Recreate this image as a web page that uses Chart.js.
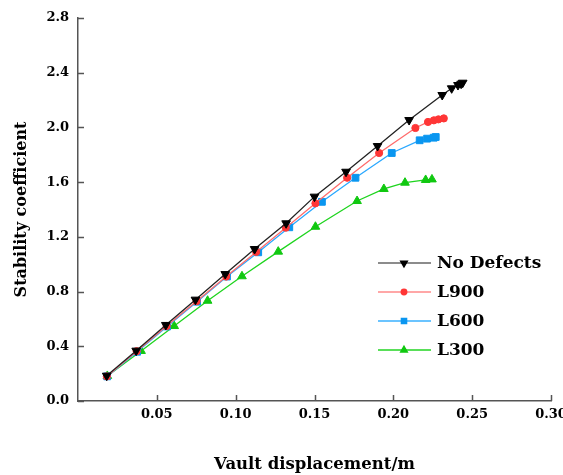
<!DOCTYPE html>
<html>
<head>
<meta charset="utf-8">
<script src="https://cdn.jsdelivr.net/npm/chart.js@4/dist/chart.umd.min.js"></script>
<style>
  html, body { margin: 0; padding: 0; background: #fff; }
  #wrap { width: 563px; height: 475px; }
</style>
</head>
<body>
<div id="wrap"><canvas id="chart" width="563" height="475"></canvas></div>
<script>
// Vault displacement (m) / stability coefficient
const noDefectsX = [0.0182, 0.0369, 0.0557, 0.0745, 0.0934, 0.112, 0.132, 0.150, 0.170, 0.190, 0.210, 0.231, 0.237, 0.241, 0.243, 0.244];
const noDefectsY = [0.185, 0.368, 0.556, 0.741, 0.928, 1.111, 1.299, 1.494, 1.676, 1.864, 2.054, 2.237, 2.286, 2.310, 2.320, 2.327];

const l900X = [0.0183, 0.0372, 0.0562, 0.0752, 0.0940, 0.1130, 0.1318, 0.1506, 0.1707, 0.1910, 0.2140, 0.2220, 0.2257, 0.2286, 0.2320];
const l900Y = [0.180, 0.364, 0.548, 0.730, 0.910, 1.090, 1.267, 1.445, 1.632, 1.813, 1.996, 2.040, 2.052, 2.059, 2.066];

const l600X = [0.0185, 0.0375, 0.0565, 0.0755, 0.0945, 0.1143, 0.1340, 0.1547, 0.1760, 0.1990, 0.2167, 0.2214, 0.2256, 0.2269];
const l600Y = [0.180, 0.360, 0.545, 0.726, 0.910, 1.087, 1.270, 1.456, 1.632, 1.813, 1.906, 1.918, 1.925, 1.930];

const l300X = [0.0186, 0.0400, 0.0610, 0.0822, 0.1040, 0.1270, 0.1506, 0.1770, 0.1940, 0.2074, 0.2205, 0.2245];
const l300Y = [0.183, 0.366, 0.548, 0.733, 0.912, 1.092, 1.274, 1.462, 1.550, 1.596, 1.616, 1.620];

const seriesNames = ['No Defects', 'L900', 'L600', 'L300'];

const xTicks = [0.05, 0.10, 0.15, 0.20, 0.25, 0.30];
const yTicks = [0.0, 0.4, 0.8, 1.2, 1.6, 2.0, 2.4, 2.8];

function toPoints(xs, ys) {
    return xs.map((x, i) => ({ x: x, y: ys[i] }));
}

const serif = "'DejaVu Serif', 'Liberation Serif', serif";
const axisColor = '#555555';

// ticks drawn on the inner side of the axes
const innerTicks = {
    id: 'innerTicks',
    afterDraw(chart) {
        const ctx = chart.ctx;
        const xs = chart.scales.x, ys = chart.scales.y;
        const area = chart.chartArea;
        ctx.save();
        ctx.strokeStyle = axisColor;
        ctx.lineWidth = 1.5;
        ctx.beginPath();
        xTicks.forEach(v => {
            const px = Math.round(xs.getPixelForValue(v)) + 0.5;
            ctx.moveTo(px, area.bottom);
            ctx.lineTo(px, area.bottom - 6);
        });
        yTicks.forEach(v => {
            const py = Math.round(ys.getPixelForValue(v)) + 0.5;
            ctx.moveTo(area.left, py);
            ctx.lineTo(area.left + 6, py);
        });
        ctx.stroke();
        ctx.restore();
    }
};

// legend inside the plot, line with marker in the middle
const innerLegend = {
    id: 'innerLegend',
    afterDraw(chart) {
        const ctx = chart.ctx;
        const area = chart.chartArea;
        const x0 = area.left + 300;
        const y0 = area.top + 245;
        const rowH = 29;
        ctx.save();
        chart.data.datasets.forEach((ds, i) => {
            const y = y0 + i * rowH;
            ctx.strokeStyle = ds.legendLine;
            ctx.lineWidth = 1.5;
            ctx.beginPath();
            ctx.moveTo(x0, y);
            ctx.lineTo(x0 + 53, y);
            ctx.stroke();
            ctx.fillStyle = ds.pointBackgroundColor;
            ctx.strokeStyle = ds.pointBorderColor;
            Chart.helpers.drawPoint(ctx, {
                pointStyle: ds.pointStyle,
                rotation: ds.pointRotation || 0,
                radius: ds.pointRadius * 0.75,
                borderWidth: 1
            }, x0 + 26, y);
            ctx.fillStyle = '#000';
            ctx.font = 'bold 17px ' + serif;
            ctx.textBaseline = 'middle';
            ctx.textAlign = 'left';
            ctx.fillText(ds.label, x0 + 59, y + 1);
        });
        ctx.restore();
    }
};

const datasets = [
    {
        label: seriesNames[0],
        data: toPoints(noDefectsX, noDefectsY),
        borderColor: '#222222',
        legendLine: '#666666',
        pointBackgroundColor: '#000000',
        pointBorderColor: '#000000',
        pointStyle: 'triangle',
        pointRotation: 180,
        pointRadius: 5
    },
    {
        label: seriesNames[1],
        data: toPoints(l900X, l900Y),
        borderColor: '#ff6b6b',
        legendLine: '#ff8a8a',
        pointBackgroundColor: '#ff3636',
        pointBorderColor: '#ff3636',
        pointStyle: 'circle',
        pointRadius: 3.6
    },
    {
        label: seriesNames[2],
        data: toPoints(l600X, l600Y),
        borderColor: '#2aa8ff',
        legendLine: '#3ab0ff',
        pointBackgroundColor: '#0a96f0',
        pointBorderColor: '#0a96f0',
        pointStyle: 'rect',
        pointRadius: 4.8
    },
    {
        label: seriesNames[3],
        data: toPoints(l300X, l300Y),
        borderColor: '#1ed41e',
        legendLine: '#22d422',
        pointBackgroundColor: '#10c810',
        pointBorderColor: '#10c810',
        pointStyle: 'triangle',
        pointRadius: 5
    }
];
datasets.forEach(ds => {
    ds.backgroundColor = ds.pointBackgroundColor;
    ds.borderWidth = 1.3;
    ds.pointBorderWidth = 1;
    ds.fill = false;
    ds.tension = 0;
    ds.showLine = true;
});

const chart = new Chart(document.getElementById('chart'), {
    type: 'scatter',
    data: { datasets: datasets },
    options: {
        responsive: false,
        animation: false,
        devicePixelRatio: 1,
        layout: { padding: { top: 18, right: 12, left: 0, bottom: 0 } },
        plugins: {
            legend: { display: false },
            tooltip: { enabled: false }
        },
        scales: {
            x: {
                type: 'linear',
                min: 0,
                max: 0.3,
                border: { display: true, color: axisColor, width: 1.5 },
                grid: { display: false, drawTicks: false },
                ticks: {
                    stepSize: 0.05,
                    padding: 6,
                    color: '#000',
                    maxRotation: 0,
                    autoSkip: false,
                    font: { family: serif, size: 13, weight: 'bold' },
                    callback: v => (Math.abs(v) < 1e-9 ? '' : v.toFixed(2))
                },
                title: {
                    display: true,
                    text: 'Vault displacement/m',
                    color: '#000',
                    font: { family: serif, size: 16.5, weight: 'bold' },
                    padding: { top: 22, bottom: 0 }
                },
                afterFit(scale) {
                    scale.height = 74;
                    scale.paddingLeft = 0;
                    scale.paddingRight = 0;
                }
            },
            y: {
                type: 'linear',
                min: 0,
                max: 2.8,
                border: { display: true, color: axisColor, width: 1.5 },
                grid: { display: false, drawTicks: false },
                ticks: {
                    stepSize: 0.4,
                    padding: 9,
                    color: '#000',
                    font: { family: serif, size: 13, weight: 'bold' },
                    callback: v => v.toFixed(1)
                },
                title: {
                    display: true,
                    text: 'Stability coefficient',
                    color: '#000',
                    font: { family: serif, size: 16, weight: 'bold' },
                    padding: { top: 12, bottom: 4 }
                },
                afterFit(scale) {
                    scale.width = 78;
                    scale.paddingTop = 0;
                    scale.paddingBottom = 0;
                }
            }
        }
    },
    plugins: [innerTicks, innerLegend]
});
</script>
</body>
</html>
